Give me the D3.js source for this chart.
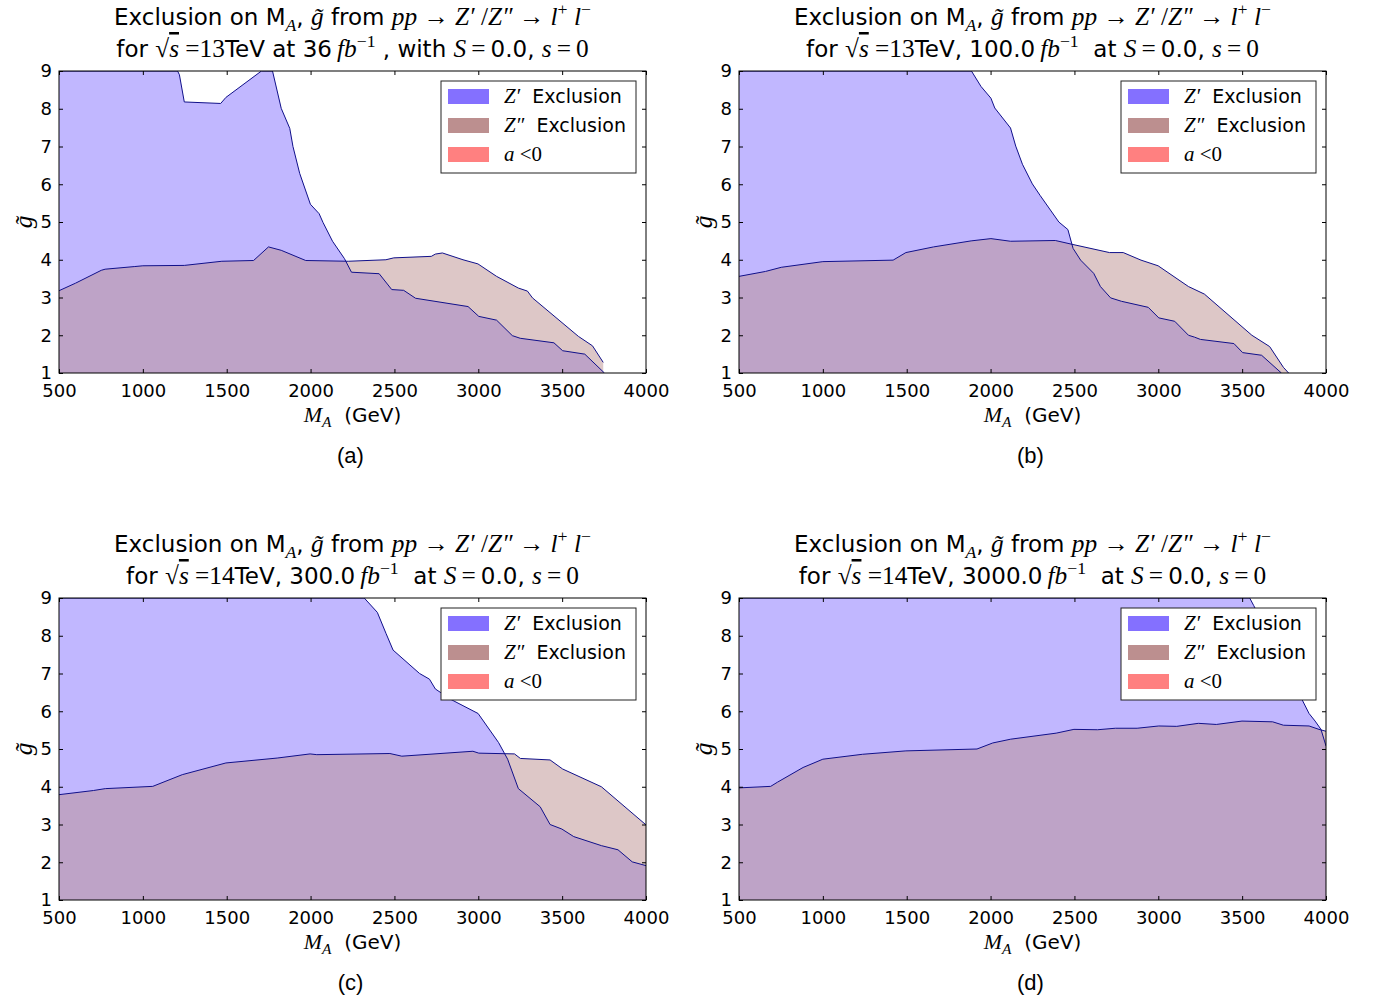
<!DOCTYPE html>
<html>
<head>
<meta charset="utf-8">
<script src="https://cdn.jsdelivr.net/npm/d3@7"></script>
<style>
  body { margin: 0; background: #fff; }
  text { white-space: pre; }
</style>
</head>
<body>
<div id="chart"></div>
<script>
// exclusion contours, [M_A in GeV, g~]
const zpA = [[500, 9], [1207, 9], [1218, 8.9], [1247, 8.18], [1464, 8.14], [1495, 8.3], [1707, 9], [1773, 9],
  [1825, 8.01], [1876, 7.48], [1895, 7.0], [1935, 6.29], [1999, 5.47], [2051, 5.22], [2074, 4.99], [2131, 4.49],
  [2202, 4.03], [2244, 3.67], [2409, 3.63], [2484, 3.21], [2555, 3.19], [2626, 2.98], [2939, 2.76], [3003, 2.5],
  [3109, 2.4], [3203, 1.99], [3250, 1.92], [3451, 1.8], [3503, 1.59], [3635, 1.5], [3752, 1.0]];
const zppA = [[500, 3.18], [599, 3.38], [752, 3.72], [775, 3.75], [952, 3.82], [1000, 3.84], [1247, 3.85],
  [1471, 3.96], [1660, 3.98], [1749, 4.34], [1825, 4.25], [1971, 3.98], [2225, 3.96], [2449, 4.0], [2496, 4.05],
  [2720, 4.09], [2744, 4.15], [2786, 4.18], [2909, 4.0], [2998, 3.89], [3109, 3.56], [3239, 3.25], [3293, 3.17],
  [3323, 2.99], [3597, 1.97], [3681, 1.72], [3745, 1.28]];

const zpB = [[500, 9], [1886, 9], [1943, 8.59], [2002, 8.28], [2025, 8.02], [2119, 7.49], [2150, 7.01], [2190, 6.53],
  [2249, 6.01], [2296, 5.7], [2407, 5.0], [2461, 4.8], [2492, 4.3], [2537, 3.99], [2615, 3.64], [2655, 3.29],
  [2716, 2.99], [2780, 2.9], [2940, 2.74], [3003, 2.46], [3098, 2.37], [3180, 2.0], [3216, 1.95], [3251, 1.89],
  [3451, 1.78], [3503, 1.54], [3616, 1.47], [3734, 1.0]];
const zppB = [[500, 3.56], [658, 3.69], [752, 3.8], [1000, 3.95], [1419, 3.99], [1495, 4.19], [1660, 4.34],
  [1884, 4.5], [2002, 4.56], [2119, 4.49], [2386, 4.51], [2485, 4.41], [2709, 4.19], [2791, 4.19], [2897, 3.99],
  [2999, 3.84], [3180, 3.29], [3275, 3.09], [3558, 2.0], [3664, 1.7], [3746, 1.15], [3777, 1.0]];

const zpC = [[500, 9], [2320, 9], [2398, 8.62], [2450, 8.06], [2492, 7.62], [2650, 7.0], [2709, 6.85], [2744, 6.59],
  [2838, 6.31], [2999, 5.94], [3121, 5.17], [3175, 4.73], [3239, 3.95], [3369, 3.47], [3428, 3.0], [3498, 2.88],
  [3569, 2.68], [3734, 2.44], [3833, 2.33], [3918, 2.01], [4000, 1.91]];
const zppC = [[500, 3.79], [705, 3.9], [776, 3.95], [1059, 4.01], [1235, 4.32], [1495, 4.63], [1801, 4.76],
  [1997, 4.87], [2037, 4.85], [2473, 4.88], [2544, 4.81], [2968, 4.94], [3003, 4.89], [3216, 4.87], [3251, 4.75],
  [3428, 4.71], [3503, 4.47], [3734, 4.0], [4000, 2.99]];

const zpD = [[500, 9], [3545, 9], [3569, 8.8], [3857, 6.31], [3899, 5.94], [3935, 5.74], [3970, 5.52], [4000, 5.08]];
const zppD = [[500, 3.97], [689, 4.01], [729, 4.12], [882, 4.51], [1000, 4.73], [1236, 4.86], [1495, 4.95],
  [1919, 5.0], [2013, 5.16], [2120, 5.26], [2391, 5.42], [2497, 5.52], [2638, 5.51], [2744, 5.55], [2874, 5.55],
  [3003, 5.61], [3110, 5.6], [3239, 5.68], [3346, 5.65], [3499, 5.74], [3682, 5.72], [3746, 5.63], [3899, 5.61],
  [3958, 5.52], [4000, 5.47]];

const xTicks = [500, 1000, 1500, 2000, 2500, 3000, 3500, 4000];
const yTicks = [1, 2, 3, 4, 5, 6, 7, 8, 9];
const captions = ["(a)", "(b)", "(c)", "(d)"];
const energies = ["13", "13", "14", "14"];
const lumis = ["36", "100.0", "300.0", "3000.0"];
const legendLabels = ["Z′", "Z″", "a"];

const W = 1375, H = 1002;
const pw = 587, ph = 302;
const panels = [
  { left: 59, top: 71, zp: zpA, zpp: zppA },
  { left: 739, top: 71, zp: zpB, zpp: zppB },
  { left: 59, top: 598, zp: zpC, zpp: zppC },
  { left: 739, top: 598, zp: zpD, zpp: zppD },
];

const SANS = "DejaVu Sans", SERIF = "Liberation Serif";
const MATH_SCALE = 1.1;

const svg = d3.select("#chart").append("svg").attr("width", W).attr("height", H);

// text made of sans / math pieces, with sub and superscripts
function rich(sel, x, y, segs, size, anchor) {
  const t = sel.append("text").attr("x", x).attr("y", y)
    .attr("text-anchor", anchor || "middle").attr("font-size", size).attr("fill", "#000");
  let shift = 0;
  segs.forEach(s => {
    const target = s.sub ? size * 0.25 : s.sup ? -size * 0.42 : 0;
    const ts = t.append("tspan").text(s.t).attr("dy", target - shift);
    shift = target;
    const math = s.f === "i" || s.f === "r";
    ts.attr("font-family", math ? SERIF : SANS)
      .attr("font-style", s.f === "i" ? "italic" : "normal");
    let fs = math ? size * MATH_SCALE : size;
    if (s.sub || s.sup) fs *= 0.7;
    ts.attr("font-size", fs);
    if (s.over) ts.style("text-decoration", "overline");
  });
  return t;
}

panels.forEach((p, i) => {
  const g = svg.append("g").attr("transform", `translate(${p.left},${p.top})`);
  const x = d3.scaleLinear().domain([500, 4000]).range([0, pw]);
  const y = d3.scaleLinear().domain([1, 9]).range([ph, 0]);

  const clipId = "clip" + i;
  g.append("clipPath").attr("id", clipId).append("rect").attr("width", pw).attr("height", ph);
  const plot = g.append("g").attr("clip-path", `url(#${clipId})`);

  const area = d3.area().x(d => x(d[0])).y0(y(1)).y1(d => y(d[1]));
  const line = d3.line().x(d => x(d[0])).y(d => y(d[1]));

  plot.append("path").datum(p.zp).attr("d", area).attr("fill", "#8470ff").attr("fill-opacity", 0.5);
  plot.append("path").datum(p.zpp).attr("d", area).attr("fill", "#bc8f8f").attr("fill-opacity", 0.5);
  plot.append("path").datum(p.zp).attr("d", line).attr("fill", "none").attr("stroke", "#10108a").attr("stroke-width", 1);
  plot.append("path").datum(p.zpp).attr("d", line).attr("fill", "none").attr("stroke", "#10108a").attr("stroke-width", 1);

  // axes, ticks pointing inward on all sides
  const tickStyle = a => {
    a.select(".domain").remove();
    a.selectAll("line").attr("stroke", "#000");
  };
  g.append("g").attr("transform", `translate(0,${ph})`)
    .call(d3.axisBottom(x).tickValues(xTicks).tickSizeInner(-4).tickSizeOuter(0).tickPadding(11).tickFormat(d3.format("d")))
    .call(tickStyle)
    .selectAll("text").attr("font-family", SANS).attr("font-size", 18).attr("fill", "#000");
  g.append("g")
    .call(d3.axisTop(x).tickValues(xTicks).tickSizeInner(-4).tickSizeOuter(0).tickFormat(""))
    .call(tickStyle);
  g.append("g")
    .call(d3.axisLeft(y).tickValues(yTicks).tickSizeInner(-4).tickSizeOuter(0).tickPadding(7))
    .call(tickStyle)
    .selectAll("text").attr("font-family", SANS).attr("font-size", 18).attr("fill", "#000");
  g.append("g").attr("transform", `translate(${pw},0)`)
    .call(d3.axisRight(y).tickValues(yTicks).tickSizeInner(-4).tickSizeOuter(0).tickFormat(""))
    .call(tickStyle);
  g.append("rect").attr("width", pw).attr("height", ph).attr("fill", "none").attr("stroke", "#000").attr("stroke-width", 1);

  // titles
  rich(g, pw / 2, -46, [
    { t: "Exclusion on M" }, { t: "A", f: "i", sub: true }, { t: ", " }, { t: "g̃", f: "i" }, { t: " from " },
    { t: "pp", f: "i" }, { t: " → ", f: "r" }, { t: "Z′", f: "i" }, { t: " /", f: "r" }, { t: "Z″", f: "i" },
    { t: " → ", f: "r" }, { t: "l", f: "i" }, { t: "+", f: "r", sup: true }, { t: " l", f: "i" }, { t: "−", f: "r", sup: true },
  ], 23);
  const l2 = [{ t: "for " }, { t: "√", f: "r" }, { t: "s", f: "i", over: true }, { t: " =" + energies[i], f: "r" }];
  if (i === 0) {
    l2.push({ t: "TeV at " + lumis[i] }, { t: "\u2009fb", f: "i" }, { t: "−1", f: "r", sup: true }, { t: " , with " });
  } else {
    l2.push({ t: "TeV, " + lumis[i] }, { t: "\u2009fb", f: "i" }, { t: "−1", f: "r", sup: true }, { t: "  at " });
  }
  l2.push({ t: "S", f: "i" }, { t: "\u2009=\u2009", f: "r" }, { t: "0.0, " }, { t: "s", f: "i" }, { t: "\u2009=\u20090", f: "r" });
  rich(g, pw / 2, -14, l2, 23);

  // axis labels and caption
  rich(g, pw / 2, ph + 49, [{ t: "M", f: "i" }, { t: "A", f: "i", sub: true }, { t: "  (GeV)" }], 20);
  rich(g, 0, 0, [{ t: "g̃", f: "i" }], 23).attr("transform", `translate(-27,${ph / 2}) rotate(-90)`);
  g.append("text").attr("x", pw / 2 - 2).attr("y", ph + 90).attr("text-anchor", "middle")
    .attr("font-family", "Liberation Sans").attr("font-size", 22).text(captions[i]);

  // legend
  const lg = g.append("g").attr("transform", "translate(382,10)");
  lg.append("rect").attr("width", 195).attr("height", 92).attr("fill", "#fff").attr("stroke", "#222").attr("stroke-width", 1);
  const swatches = ["#8470ff", "#bc8f8f", "#ff8080"];
  legendLabels.forEach((lab, k) => {
    const cy = 15 + k * 29;
    lg.append("rect").attr("x", 7).attr("y", cy - 7).attr("width", 41).attr("height", 15).attr("fill", swatches[k]);
    const segs = k < 2 ? [{ t: lab, f: "i" }, { t: "  Exclusion" }] : [{ t: "a", f: "i" }, { t: " <0", f: "r" }];
    rich(lg, 63, cy + 7, segs, 19, "start");
  });
});
</script>
</body>
</html>
